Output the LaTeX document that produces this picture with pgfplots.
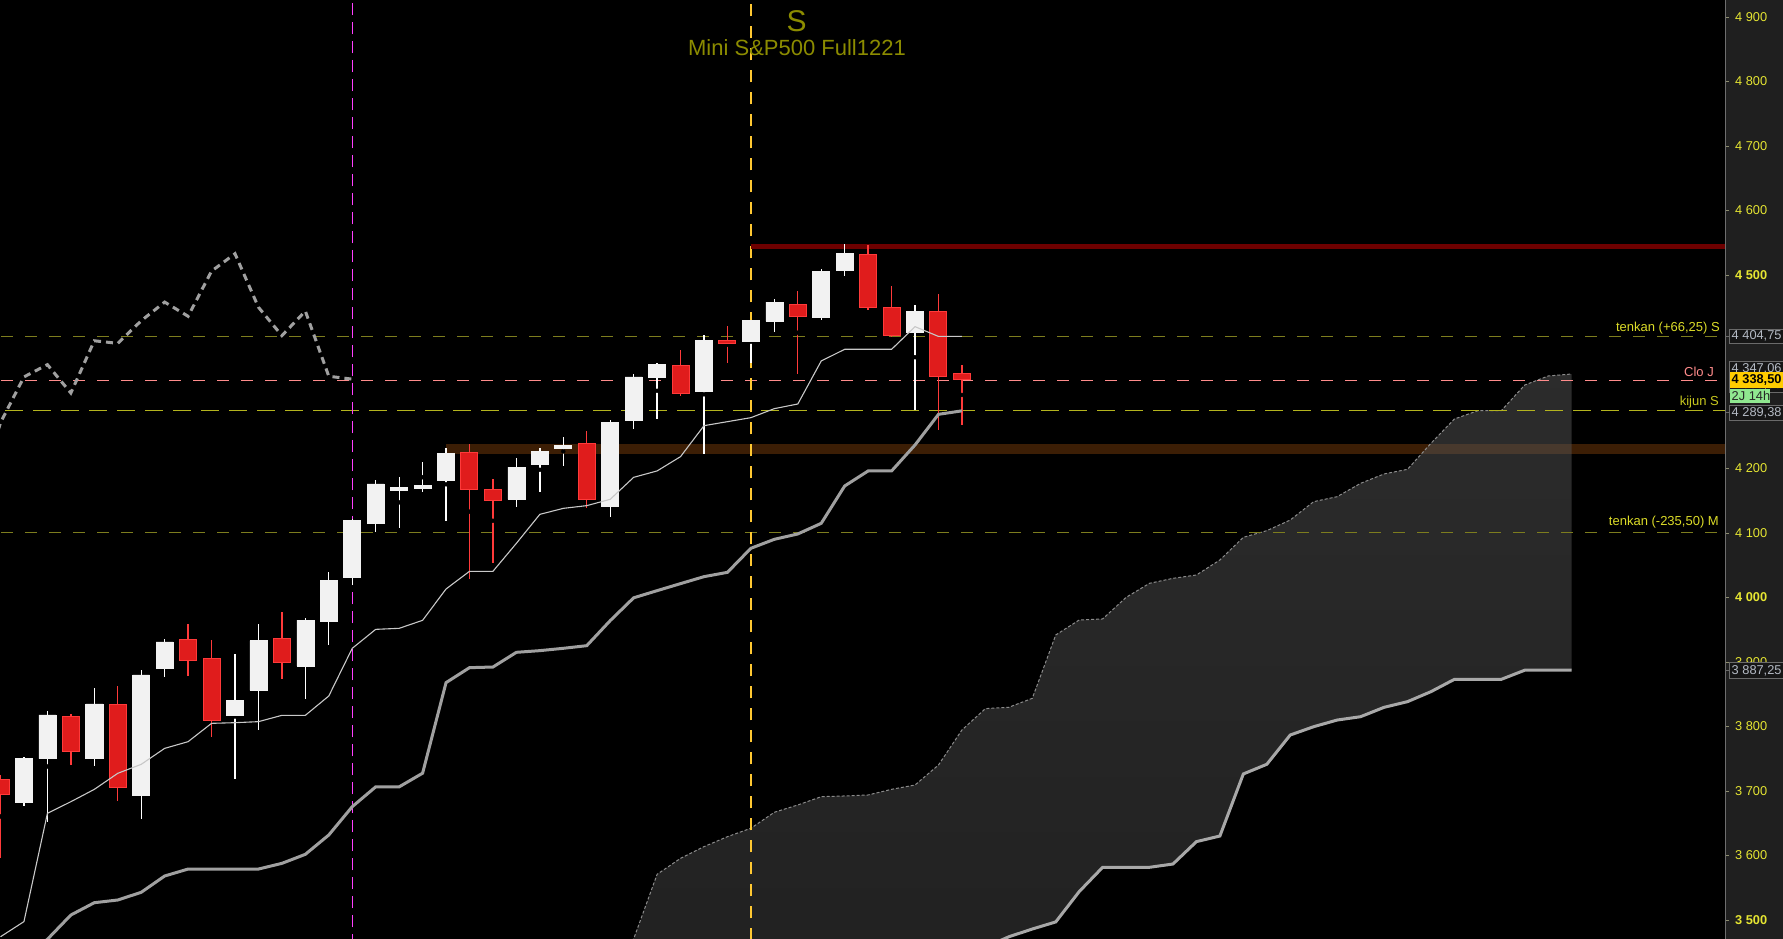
\documentclass[border=0pt]{standalone}
\usepackage{pgfplots}
\pgfplotsset{compat=1.18}
\usepackage{pgfplotstable}
\usepackage{fontspec}
\setmainfont{Liberation Sans}

\definecolor{panel}{HTML}{1F1F1F}
\definecolor{sepline}{HTML}{6E6E6E}
\definecolor{ticky}{HTML}{E6E632}
\definecolor{tickc}{HTML}{8C8C6E}
\definecolor{olivedash}{HTML}{7D7D1E}
\definecolor{pinkdash}{HTML}{FF8C8C}
\definecolor{kijundash}{HTML}{B4B41E}
\definecolor{magvert}{HTML}{FF40FF}
\definecolor{orvert}{HTML}{FFC832}
\definecolor{resline}{HTML}{6E0000}
\definecolor{bandc}{HTML}{3C1E05}
\definecolor{tenkanc}{HTML}{C8C8C8}
\definecolor{kijunc}{HTML}{A0A0A0}
\definecolor{spanAc}{HTML}{8C8C8C}
\definecolor{spanBc}{HTML}{A8A8A8}
\definecolor{cloudtop}{HTML}{585858}
\definecolor{cloudbot}{HTML}{424242}
\definecolor{redF}{HTML}{E01C1C}
\definecolor{redB}{HTML}{FF3A3A}
\definecolor{whiteF}{HTML}{F2F2F2}
\definecolor{titlec}{HTML}{8C8C00}
\definecolor{lblyellow}{HTML}{DCDC28}
\definecolor{lblsalmon}{HTML}{FF8C8C}
\definecolor{lblkijun}{HTML}{C8C81E}
\definecolor{boxfill}{HTML}{161616}
\definecolor{boxborder}{HTML}{6A6A6A}
\definecolor{boxtext}{HTML}{B4BAC4}
\definecolor{goldbox}{HTML}{FFCC00}
\definecolor{greenbox}{HTML}{90E890}

% candles: i O H L C
\pgfplotstableread{
i O H L C
1 3683 3753 3676 3750
2 3750 3824 3652 3818
4 3750 3860 3739 3835
6 3693 3888 3656 3880
7 3890 3935 3877 3931
10 3818 3912 3719 3840
11 3856 3959 3795 3933
13 3894 3968 3842 3965
14 3963 4040 3927 4027
15 4031 4122 4019 4119
16 4115 4182 4101 4176
17 4166 4187 4108 4171
18 4170 4210 4163 4174
19 4181 4232 4119 4224
22 4152 4216 4141 4202
23 4206 4232 4164 4227
24 4232 4249 4204 4236
26 4142 4275 4125 4271
27 4274 4347 4262 4342
28 4341 4364 4277 4361
30 4319 4407 4223 4398
32 4397 4430 4363 4429
33 4428 4463 4411 4458
35 4434 4509 4431 4506
36 4508 4548 4499 4533
39 4411 4454 4291 4444
}\whitecandles

\pgfplotstableread{
i O H L C
0 3718 3725 3596 3695
3 3816 3820 3741 3761
5 3834 3863 3685 3706
8 3935 3959 3879 3903
9 3906 3934 3784 3810
12 3937 3978 3874 3899
20 4225 4238 4028 4168
21 4168 4184 4054 4151
25 4238 4258 4139 4152
29 4360 4384 4313 4317
31 4399 4421 4363 4394
34 4455 4475 4346 4436
37 4531 4547 4445 4450
38 4450 4483 4404 4406
40 4444 4471 4259 4343
41 4348 4361 4267 4338.5
}\redcandles

% tenkan / kijun
\pgfplotstableread{
i tenkan kijun
0 3474 3420
1 3497.5 3444
2 3665.3 3470
3 3683.4 3507.7
4 3702.5 3526.8
5 3727.4 3531
6 3741.3 3542.9
7 3766.1 3568.2
8 3776.5 3579
9 3804.9 3579
10 3805.9 3579
11 3807.5 3579
12 3817.3 3587.8
13 3817.3 3601.8
14 3847.3 3631.8
15 3921.2 3675.7
16 3950.6 3706.4
17 3952.2 3706.4
18 3964.6 3727.6
19 4013.2 3868
20 4040.6 3891.2
21 4040.6 3892.2
22 4084 3915
23 4128.9 3917.6
24 4138.2 3921.2
25 4142.4 3925.3
26 4152.2 3964.1
27 4186.3 3999.5
28 4196.2 4010.6
29 4218.4 4021.5
30 4266.4 4032.3
31 4272.6 4039
32 4278.8 4076.3
33 4292.8 4090.2
34 4300 4098.5
35 4366.7 4115
36 4384.8 4172.9
37 4384.8 4196.2
38 4384.8 4196.2
39 4419.9 4236.5
40 4404.75 4284
41 4404.75 4289.38
}\ichimoku

% lagging span
\pgfplotstableread{
j chikou
-1 4152
0 4271
1 4342
2 4361
3 4317
4 4398
5 4394
6 4429
7 4458
8 4436
9 4506
10 4533
11 4450
12 4406
13 4444
14 4343
15 4338.5
}\chikou

% cloud: span A, span B
\pgfplotstableread{
k A B
26 3447 3400
27 3470.6 3400
28 3570.8 3400
29 3595.6 3400
30 3613.7 3400
31 3629.2 3400
32 3642.2 3400
33 3667 3400
34 3678.3 3400
35 3691.2 3400
36 3692.3 3400
37 3693.8 3400
38 3702.6 3400
39 3709.3 3400
40 3740.3 3400
41 3794.6 3420
42 3827.7 3458
43 3829.8 3474
44 3843.7 3486
45 3941.9 3497
46 3965.1 3544
47 3966.7 3581.7
48 4000.2 3581.7
49 4022 3581.7
50 4029.7 3586.8
51 4034.9 3621.5
52 4058.1 3630.2
53 4093.3 3726.4
54 4103.6 3741.4
55 4120.1 3786.8
56 4148.6 3799.7
57 4156.3 3810
58 4177 3815.2
59 4191.5 3829.7
60 4198.7 3838.5
61 4239 3854
62 4276.7 3873.1
63 4289.6 3873.1
64 4289.6 3873.1
65 4329.4 3887.25
66 4343.4 3887.25
67 4346.5 3887.25
}\cloud

% cloud outline: span A forward, span B backward
\pgfplotstableread{
k v
26 3447
27 3470.6
28 3570.8
29 3595.6
30 3613.7
31 3629.2
32 3642.2
33 3667
34 3678.3
35 3691.2
36 3692.3
37 3693.8
38 3702.6
39 3709.3
40 3740.3
41 3794.6
42 3827.7
43 3829.8
44 3843.7
45 3941.9
46 3965.1
47 3966.7
48 4000.2
49 4022
50 4029.7
51 4034.9
52 4058.1
53 4093.3
54 4103.6
55 4120.1
56 4148.6
57 4156.3
58 4177
59 4191.5
60 4198.7
61 4239
62 4276.7
63 4289.6
64 4289.6
65 4329.4
66 4343.4
67 4346.5
67 3887.25
66 3887.25
65 3887.25
64 3873.1
63 3873.1
62 3873.1
61 3854
60 3838.5
59 3829.7
58 3815.2
57 3810
56 3799.7
55 3786.8
54 3741.4
53 3726.4
52 3630.2
51 3621.5
50 3586.8
49 3581.7
48 3581.7
47 3581.7
46 3544
45 3497
44 3486
43 3474
42 3458
41 3420
40 3400
26 3400
}\cloudpoly

\pgfplotsset{chart/.style={width=1725pt, height=939pt, scale only axis,
  xmin=-0.02132, xmax=73.539, ymin=3470.54, ymax=4926.36,
  at={(0pt,0pt)}, anchor=south west}}

\begin{document}
\begin{tikzpicture}
\fill[black] (0pt,0pt) rectangle (1725pt,939pt);
\fill[panel] (1725pt,0pt) rectangle (1783pt,939pt);

\begin{axis}[chart,
  axis line style={draw=none},
  xtick=\empty,
  ytick={3500,3600,3700,3800,3900,4000,4100,4200,4500,4600,4700,4800,4900},
  yticklabels={\textbf{3 500},3 600,3 700,3 800,3 900,\textbf{4 000},4 100,4 200,\textbf{4 500},4 600,4 700,4 800,4 900},
  ytick pos=right, yticklabel pos=right,
  tick align=outside, major tick length=4pt,
  tick style={color=tickc, line width=0.8pt},
  yticklabel style={anchor=west, inner sep=0pt, xshift=6pt, text=ticky,
     font=\fontsize{12.8pt}{15pt}\selectfont},
]
% support band
\addplot[draw=none, fill=bandc] coordinates {(19,4222.5) (74,4222.5) (74,4238) (19,4238)} -- cycle;
% cloud
\addplot[draw=none, top color=cloudtop, bottom color=cloudbot, fill opacity=0.5] table[x=k, y=v] {\cloudpoly} -- cycle;
\addplot[color=spanAc, line width=1pt, dash pattern=on 3pt off 2pt] table[x=k, y=A] {\cloud};
\addplot[color=spanBc, line width=3pt] table[x=k, y=B] {\cloud};
% horizontal levels
\addplot[color=olivedash, line width=1pt, dash pattern=on 12pt off 12pt] coordinates {(-1,4404.75) (74,4404.75)};
\addplot[color=olivedash, line width=1pt, dash pattern=on 12pt off 12pt] coordinates {(-1,4100) (74,4100)};
\addplot[color=pinkdash, line width=1pt, dash pattern=on 12pt off 12pt] coordinates {(-1,4336.96) (74,4336.96)};
\addplot[color=kijundash, line width=1pt, dash pattern=on 18pt off 10pt] coordinates {(-1,4289.38) (74,4289.38)};
% vertical markers
\addplot[color=magvert, line width=1.3pt, dash pattern=on 12pt off 7pt] coordinates {(15,3400) (15,5000)};
\addplot[color=orvert, line width=1.3pt, dash pattern=on 12pt off 10pt] coordinates {(32,3400) (32,5000)};
% resistance
\addplot[color=resline, line width=5pt] coordinates {(32,4543.9) (74,4543.9)};
% wicks
\addplot[only marks, mark=none, error bars/.cd, y dir=both, y explicit, error mark=none,
  error bar style={draw=white, line width=1.3pt}]
  table[x=i, y expr={(\thisrow{H}+\thisrow{L})/2}, y error expr={(\thisrow{H}-\thisrow{L})/2}] {\whitecandles};
\addplot[only marks, mark=none, error bars/.cd, y dir=both, y explicit, error mark=none,
  error bar style={draw=redB, line width=1.3pt}]
  table[x=i, y expr={(\thisrow{H}+\thisrow{L})/2}, y error expr={(\thisrow{H}-\thisrow{L})/2}] {\redcandles};
\end{axis}

% white bodies
\begin{axis}[chart, hide axis, ybar stacked, bar width=17pt]
\addplot[draw=none, fill=none] table[x=i, y expr={min(\thisrow{O},\thisrow{C})}] {\whitecandles};
\addplot[draw=whiteF, line width=0.6pt, fill=whiteF]
  table[x=i, y expr={abs(\thisrow{C}-\thisrow{O})}] {\whitecandles};
\end{axis}

% red bodies
\begin{axis}[chart, hide axis, ybar stacked, bar width=17pt]
\addplot[draw=none, fill=none] table[x=i, y expr={min(\thisrow{O},\thisrow{C})}] {\redcandles};
\addplot[draw=redB, line width=1pt, fill=redF]
  table[x=i, y expr={abs(\thisrow{C}-\thisrow{O})}] {\redcandles};
\end{axis}

% ichimoku lines
\begin{axis}[chart, hide axis]
\addplot[color=tenkanc, line width=1.1pt] table[x=i, y=tenkan] {\ichimoku};
\addplot[color=kijunc, line width=3pt] table[x=i, y=kijun] {\ichimoku};
\addplot[color=kijunc, line width=3pt, dash pattern=on 7pt off 5pt] table[x=j, y=chikou] {\chikou};
\end{axis}

% separator of the price panel
\draw[sepline, line width=1pt] (1725pt,0pt) -- (1725pt,939pt);

% title
\node[text=titlec, font=\fontsize{30pt}{30pt}\selectfont, inner sep=0pt] at (796.7pt,918pt) {S};
\node[text=titlec, font=\fontsize{22pt}{24pt}\selectfont, inner sep=0pt] at (797pt,891.3pt) {Mini S\&P500 Full1221};

% line labels
\begin{scope}[font=\fontsize{13pt}{15pt}\selectfont]
\node[anchor=east, inner sep=0pt, text=lblyellow] at (1720pt,610.7pt) {tenkan (+66,25) S};
\node[anchor=east, inner sep=0pt, text=lblsalmon] at (1714pt,567.3pt) {Clo J};
\node[anchor=east, inner sep=0pt, text=lblkijun] at (1719pt,536.7pt) {kijun S};
\node[anchor=east, inner sep=0pt, text=lblyellow] at (1719pt,416.7pt) {tenkan (-235,50) M};
\end{scope}

% value boxes
\begin{scope}[font=\fontsize{12.8pt}{15pt}\selectfont]
\draw[boxborder, line width=0.8pt] (1725pt,602.8pt) -- (1729.7pt,602.8pt);
\filldraw[fill=boxfill, draw=boxborder, line width=0.8pt] (1729.7pt,595.7pt) rectangle (1795pt,610pt);
\node[anchor=west, inner sep=0pt, text=boxtext] at (1731.5pt,602.8pt) {4 404,75};

\filldraw[fill=boxfill, draw=boxborder, line width=0.8pt] (1729.7pt,562pt) rectangle (1795pt,577.3pt);
\node[anchor=west, inner sep=0pt, text=boxtext] at (1731.5pt,569.7pt) {4 347,06};

\filldraw[fill=boxfill, draw=boxborder, line width=0.8pt] (1729.7pt,546.5pt) rectangle (1795pt,561.5pt);
\node[anchor=west, inner sep=0pt, text=lblsalmon] at (1731.5pt,554pt) {4 336,96};

\fill[goldbox] (1729.7pt,550.7pt) rectangle (1795pt,567.3pt);
\node[anchor=west, inner sep=0pt, text=black, font=\fontsize{12.8pt}{15pt}\selectfont\bfseries] at (1731.5pt,559pt) {4 338,50};

\fill[greenbox] (1729.7pt,535.7pt) rectangle (1770pt,550pt);
\node[anchor=west, inner sep=0pt, text=black!85] at (1731.5pt,542.8pt) {2J 14h};

\draw[boxborder, line width=0.8pt] (1725pt,526.5pt) -- (1729.7pt,526.5pt);
\filldraw[fill=boxfill, draw=boxborder, line width=0.8pt] (1729.7pt,519pt) rectangle (1795pt,534pt);
\node[anchor=west, inner sep=0pt, text=boxtext] at (1731.5pt,526.5pt) {4 289,38};

\draw[boxborder, line width=0.8pt] (1725pt,268.5pt) -- (1729.7pt,268.5pt);
\filldraw[fill=boxfill, draw=boxborder, line width=0.8pt] (1729.7pt,260.7pt) rectangle (1795pt,276.3pt);
\node[anchor=west, inner sep=0pt, text=boxtext] at (1731.5pt,268.5pt) {3 887,25};
\end{scope}

\pgfresetboundingbox
\useasboundingbox (0pt,0pt) rectangle (1783pt,939pt);
\end{tikzpicture}
\end{document}
